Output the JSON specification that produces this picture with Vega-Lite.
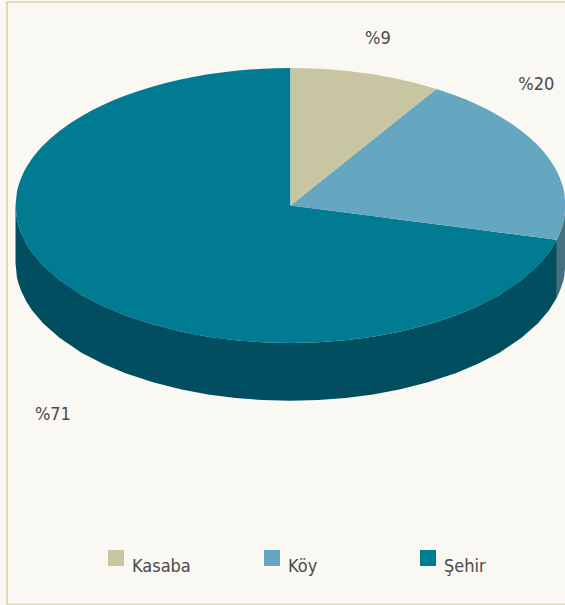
{"$schema":"https://vega.github.io/schema/vega-lite/v6.json","width":565,"height":605,"padding":0,"autosize":{"type":"none"},"background":"#faf8f2","config":{"view":{"stroke":null}},
"datasets":{"frame":[{"x":-103.09,"x2":103,"y":74,"y2":-145.09}],"shapes":[
{"part":"wallŞ","x":-100,"y":0,"y2":-21},{"part":"wallŞ","x":-99.5,"y":-4.99,"y2":-25.99},{"part":"wallŞ","x":-99,"y":-7.05,"y2":-28.05},{"part":"wallŞ","x":-98,"y":-9.95,"y2":-30.95},{"part":"wallŞ","x":-96,"y":-14,"y2":-35},{"part":"wallŞ","x":-94,"y":-17.06,"y2":-38.06},{"part":"wallŞ","x":-90,"y":-21.79,"y2":-42.79},{"part":"wallŞ","x":-84,"y":-27.13,"y2":-48.13},{"part":"wallŞ","x":-76,"y":-32.5,"y2":-53.5},{"part":"wallŞ","x":-68,"y":-36.66,"y2":-57.66},{"part":"wallŞ","x":-60,"y":-40,"y2":-61},{"part":"wallŞ","x":-50,"y":-43.3,"y2":-64.3},{"part":"wallŞ","x":-40,"y":-45.83,"y2":-66.83},{"part":"wallŞ","x":-30,"y":-47.7,"y2":-68.7},{"part":"wallŞ","x":-20,"y":-48.99,"y2":-69.99},{"part":"wallŞ","x":-10,"y":-49.75,"y2":-70.75},{"part":"wallŞ","x":0,"y":-50,"y2":-71},{"part":"wallŞ","x":10,"y":-49.75,"y2":-70.75},{"part":"wallŞ","x":20,"y":-48.99,"y2":-69.99},{"part":"wallŞ","x":30,"y":-47.7,"y2":-68.7},{"part":"wallŞ","x":40,"y":-45.83,"y2":-66.83},{"part":"wallŞ","x":50,"y":-43.3,"y2":-64.3},{"part":"wallŞ","x":60,"y":-40,"y2":-61},{"part":"wallŞ","x":68,"y":-36.66,"y2":-57.66},{"part":"wallŞ","x":76,"y":-32.5,"y2":-53.5},{"part":"wallŞ","x":84,"y":-27.13,"y2":-48.13},{"part":"wallŞ","x":90,"y":-21.79,"y2":-42.79},{"part":"wallŞ","x":94,"y":-17.06,"y2":-38.06},{"part":"wallŞ","x":96.86,"y":-12.45,"y2":-33.45},
{"part":"wallK","x":96.86,"y":-12.45,"y2":-33.45},{"part":"wallK","x":98,"y":-9.95,"y2":-30.95},{"part":"wallK","x":99,"y":-7.05,"y2":-28.05},{"part":"wallK","x":99.5,"y":-4.99,"y2":-25.99},{"part":"wallK","x":100,"y":0,"y2":-21},
{"part":"Şehir","x":-100,"y":0,"y2":0},{"part":"Şehir","x":-99.5,"y":4.99,"y2":-4.99},{"part":"Şehir","x":-99,"y":7.05,"y2":-7.05},{"part":"Şehir","x":-98,"y":9.95,"y2":-9.95},{"part":"Şehir","x":-97,"y":12.16,"y2":-12.16},{"part":"Şehir","x":-96,"y":14,"y2":-14},{"part":"Şehir","x":-94,"y":17.06,"y2":-17.06},{"part":"Şehir","x":-92,"y":19.6,"y2":-19.6},{"part":"Şehir","x":-90,"y":21.79,"y2":-21.79},{"part":"Şehir","x":-87,"y":24.65,"y2":-24.65},{"part":"Şehir","x":-84,"y":27.13,"y2":-27.13},{"part":"Şehir","x":-80,"y":30,"y2":-30},{"part":"Şehir","x":-76,"y":32.5,"y2":-32.5},{"part":"Şehir","x":-72,"y":34.7,"y2":-34.7},{"part":"Şehir","x":-68,"y":36.66,"y2":-36.66},{"part":"Şehir","x":-64,"y":38.42,"y2":-38.42},{"part":"Şehir","x":-60,"y":40,"y2":-40},{"part":"Şehir","x":-55,"y":41.76,"y2":-41.76},{"part":"Şehir","x":-50,"y":43.3,"y2":-43.3},{"part":"Şehir","x":-45,"y":44.65,"y2":-44.65},{"part":"Şehir","x":-40,"y":45.83,"y2":-45.83},{"part":"Şehir","x":-35,"y":46.84,"y2":-46.84},{"part":"Şehir","x":-30,"y":47.7,"y2":-47.7},{"part":"Şehir","x":-25,"y":48.41,"y2":-48.41},{"part":"Şehir","x":-20,"y":48.99,"y2":-48.99},{"part":"Şehir","x":-15,"y":49.43,"y2":-49.43},{"part":"Şehir","x":-10,"y":49.75,"y2":-49.75},{"part":"Şehir","x":-5,"y":49.94,"y2":-49.94},{"part":"Şehir","x":-0.01,"y":50,"y2":-50},{"part":"Şehir","x":0,"y":0,"y2":-50},{"part":"Şehir","x":10,"y":-1.29,"y2":-49.75},{"part":"Şehir","x":20,"y":-2.57,"y2":-48.99},{"part":"Şehir","x":30,"y":-3.86,"y2":-47.7},{"part":"Şehir","x":40,"y":-5.14,"y2":-45.83},{"part":"Şehir","x":50,"y":-6.43,"y2":-43.3},{"part":"Şehir","x":60,"y":-7.71,"y2":-40},{"part":"Şehir","x":68,"y":-8.74,"y2":-36.66},{"part":"Şehir","x":72,"y":-9.25,"y2":-34.7},{"part":"Şehir","x":76,"y":-9.77,"y2":-32.5},{"part":"Şehir","x":80,"y":-10.28,"y2":-30},{"part":"Şehir","x":84,"y":-10.8,"y2":-27.13},{"part":"Şehir","x":87,"y":-11.18,"y2":-24.65},{"part":"Şehir","x":90,"y":-11.57,"y2":-21.79},{"part":"Şehir","x":92,"y":-11.83,"y2":-19.6},{"part":"Şehir","x":94,"y":-12.08,"y2":-17.06},{"part":"Şehir","x":96,"y":-12.34,"y2":-14},{"part":"Şehir","x":96.86,"y":-12.45,"y2":-12.45},
{"part":"Köy","x":0,"y":0,"y2":0},{"part":"Köy","x":53,"y":42.4,"y2":-6.81},{"part":"Köy","x":55,"y":41.76,"y2":-7.07},{"part":"Köy","x":60,"y":40,"y2":-7.71},{"part":"Köy","x":64,"y":38.42,"y2":-8.23},{"part":"Köy","x":68,"y":36.66,"y2":-8.74},{"part":"Köy","x":72,"y":34.7,"y2":-9.25},{"part":"Köy","x":76,"y":32.5,"y2":-9.77},{"part":"Köy","x":80,"y":30,"y2":-10.28},{"part":"Köy","x":84,"y":27.13,"y2":-10.8},{"part":"Köy","x":87,"y":24.65,"y2":-11.18},{"part":"Köy","x":90,"y":21.79,"y2":-11.57},{"part":"Köy","x":92,"y":19.6,"y2":-11.83},{"part":"Köy","x":94,"y":17.06,"y2":-12.08},{"part":"Köy","x":96,"y":14,"y2":-12.34},{"part":"Köy","x":96.86,"y":12.45,"y2":-12.45},{"part":"Köy","x":97,"y":12.16,"y2":-12.16},{"part":"Köy","x":98,"y":9.95,"y2":-9.95},{"part":"Köy","x":99,"y":7.05,"y2":-7.05},{"part":"Köy","x":99.5,"y":4.99,"y2":-4.99},{"part":"Köy","x":100,"y":0,"y2":0},
{"part":"Kasaba","x":0,"y":50,"y2":0},{"part":"Kasaba","x":5,"y":49.94,"y2":4},{"part":"Kasaba","x":10,"y":49.75,"y2":8},{"part":"Kasaba","x":15,"y":49.43,"y2":12},{"part":"Kasaba","x":20,"y":48.99,"y2":16},{"part":"Kasaba","x":25,"y":48.41,"y2":20},{"part":"Kasaba","x":30,"y":47.7,"y2":24},{"part":"Kasaba","x":35,"y":46.84,"y2":28},{"part":"Kasaba","x":40,"y":45.83,"y2":32},{"part":"Kasaba","x":45,"y":44.65,"y2":36},{"part":"Kasaba","x":50,"y":43.3,"y2":40},{"part":"Kasaba","x":53,"y":42.4,"y2":42.4}
],
"slices":[{"category":"Kasaba","percent":9,"label":"%9","lx":31.8,"ly":60.5},{"category":"Köy","percent":20,"label":"%20","lx":89.4,"ly":43.85},{"category":"Şehir","percent":71,"label":"%71","lx":-86.4,"ly":-76.15}]},
"layer":[
{"data":{"name":"shapes"},"transform":[{"filter":"datum.part==='wallŞ'"}],"mark":{"type":"area","color":"#004e5f"},"encoding":{"x":{"field":"x","type":"quantitative","scale":{"domain":[-105.64,99.82],"nice":false,"zero":false},"axis":null},"y":{"field":"y","type":"quantitative","scale":{"domain":[-145.27,74.73],"nice":false,"zero":false},"axis":null},"y2":{"field":"y2"}}},
{"data":{"name":"frame"},"mark":{"type":"rect","fill":null,"fillOpacity":0,"stroke":"#dcdbbd","strokeWidth":2,"clip":false},"encoding":{"x":{"field":"x","type":"quantitative"},"x2":{"field":"x2"},"y":{"field":"y","type":"quantitative"},"y2":{"field":"y2"}}},
{"data":{"name":"shapes"},"transform":[{"filter":"datum.part==='wallK'"}],"mark":{"type":"area","color":"#46707f"},"encoding":{"x":{"field":"x","type":"quantitative"},"y":{"field":"y","type":"quantitative"},"y2":{"field":"y2"}}},
{"data":{"name":"shapes"},"transform":[{"filter":"datum.part==='Şehir'"}],"mark":{"type":"area","color":"#007b92"},"encoding":{"x":{"field":"x","type":"quantitative"},"y":{"field":"y","type":"quantitative"},"y2":{"field":"y2"}}},
{"data":{"name":"shapes"},"transform":[{"filter":"datum.part==='Köy'"}],"mark":{"type":"area","color":"#65a6c0"},"encoding":{"x":{"field":"x","type":"quantitative"},"y":{"field":"y","type":"quantitative"},"y2":{"field":"y2"}}},
{"data":{"name":"shapes"},"transform":[{"filter":"datum.part==='Kasaba'"}],"mark":{"type":"area","color":"#c7c5a2"},"encoding":{"x":{"field":"x","type":"quantitative"},"y":{"field":"y","type":"quantitative"},"y2":{"field":"y2"}}},
{"data":{"name":"slices"},"mark":{"type":"text","font":"DejaVu Sans Condensed, Lato","fontSize":18,"color":"#4a4a4a","align":"center","baseline":"middle"},"encoding":{"x":{"field":"lx","type":"quantitative"},"y":{"field":"ly","type":"quantitative"},"text":{"field":"label"}}},
{"data":{"name":"slices"},"mark":{"type":"point","opacity":0},"encoding":{"x":{"field":"lx","type":"quantitative"},"y":{"field":"ly","type":"quantitative"},"fill":{"field":"category","type":"nominal","scale":{"domain":["Kasaba","Köy","Şehir"],"range":["#c7c5a2","#65a6c0","#007b92"]},"legend":{"orient":"none","legendX":107,"legendY":549,"columns":3,"title":null,"symbolType":"square","symbolSize":256,"symbolOpacity":1,"symbolStrokeWidth":0,"labelFont":"DejaVu Sans Condensed, Lato","labelFontSize":18,"labelColor":"#4a4a4a","labelBaseline":"top","columnPadding":72,"gridAlign":"all","labelOffset":7}}}}
]}
